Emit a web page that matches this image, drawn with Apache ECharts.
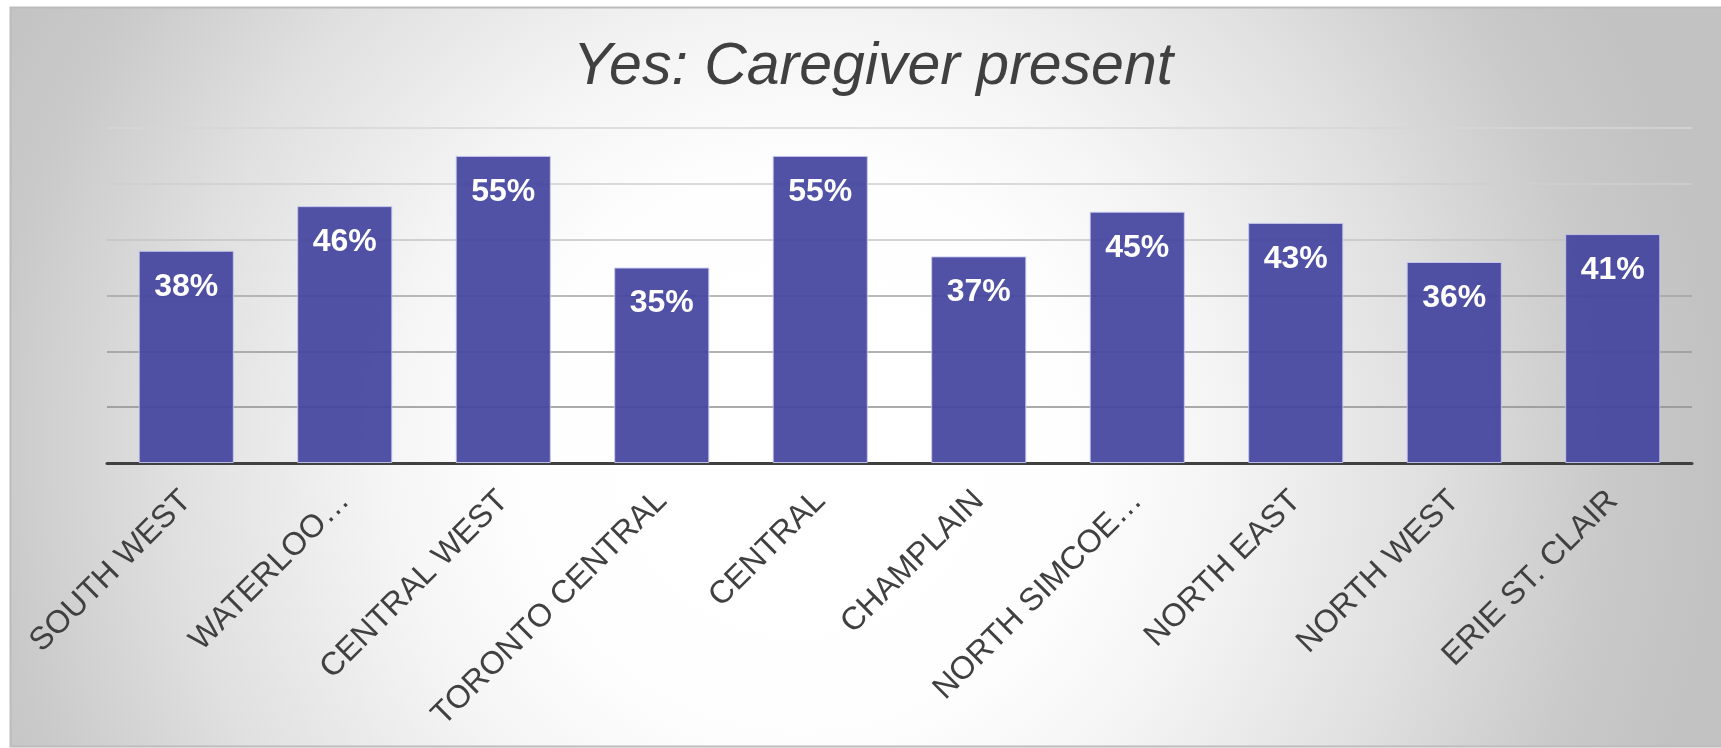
<!DOCTYPE html>
<html>
<head>
<meta charset="utf-8">
<script src="https://cdn.jsdelivr.net/npm/echarts@6/dist/echarts.min.js"></script>
<style>
html,body{margin:0;padding:0;background:#ffffff;}
#chart{width:1721px;height:748px;}
</style>
</head>
<body>
<div id="chart"></div>
<script>
const titleText = 'Yes: Caregiver present';
const categories = ['SOUTH WEST', 'WATERLOO…', 'CENTRAL WEST', 'TORONTO CENTRAL', 'CENTRAL', 'CHAMPLAIN', 'NORTH SIMCOE…', 'NORTH EAST', 'NORTH WEST', 'ERIE ST. CLAIR'];
const values = [38, 46, 55, 35, 55, 37, 45, 43, 36, 41];
const yMin = 0, yMax = 60, yInterval = 10;

const chart = echarts.init(document.getElementById('chart'), null, {renderer: 'canvas'});
const FONT = '"Liberation Sans", Arial, sans-serif';
chart.setOption({
  animation: false,
  graphic: [{
    type: 'rect',
    z: -10,
    silent: true,
    shape: {x: 10.5, y: 7.5, width: 1720, height: 739},
    style: {
      fill: {
        type: 'radial', x: 800, y: 450, r: 920, global: true,
        colorStops: [
          {offset: 0, color: '#ffffff'},
          {offset: 0.3, color: '#fefefe'},
          {offset: 0.45, color: '#f5f5f5'},
          {offset: 0.68, color: '#e0e0e0'},
          {offset: 0.88, color: '#c9c9c9'},
          {offset: 1, color: '#c2c2c2'}
        ]
      },
      stroke: '#bcbcbc',
      lineWidth: 2
    }
  }],
  title: {
    text: titleText,
    left: 568,
    top: 33,
    textStyle: {
      fontFamily: FONT,
      fontStyle: 'italic',
      fontWeight: 'normal',
      fontSize: 59,
      lineHeight: 59,
      color: '#404040'
    }
  },
  grid: {left: 107, right: 29, top: 128, bottom: 285, containLabel: false},
  xAxis: {
    type: 'category',
    data: categories,
    axisTick: {show: false},
    axisLine: {show: true, lineStyle: {color: '#404040', width: 3}},
    axisLabel: {
      interval: 0,
      rotate: 45,
      margin: 33,
      fontFamily: FONT,
      fontSize: 32,
      color: '#404040'
    }
  },
  yAxis: {
    type: 'value',
    min: yMin, max: yMax, interval: yInterval,
    axisLabel: {show: false},
    axisLine: {show: false},
    axisTick: {show: false},
    splitLine: {
      show: true,
      lineStyle: {
        width: 1.5,
        color: ['#9a9a9a', '#8f8f8f', '#999999', '#a4a4a4', '#c4c4c4', '#cfcfcf', '#d6d6d6']
      }
    }
  },
  series: [{
    type: 'bar',
    data: values,
    barCategoryGap: '40%',
    itemStyle: {
      color: 'rgba(68,69,158,0.93)',
      borderColor: 'rgba(200,200,240,0.9)',
      borderWidth: 1
    },
    label: {
      show: true,
      position: 'insideTop',
      distance: 20,
      formatter: '{c}%',
      fontFamily: FONT,
      fontWeight: 'bold',
      fontSize: 32,
      color: '#ffffff'
    }
  }]
});
</script>
</body>
</html>
